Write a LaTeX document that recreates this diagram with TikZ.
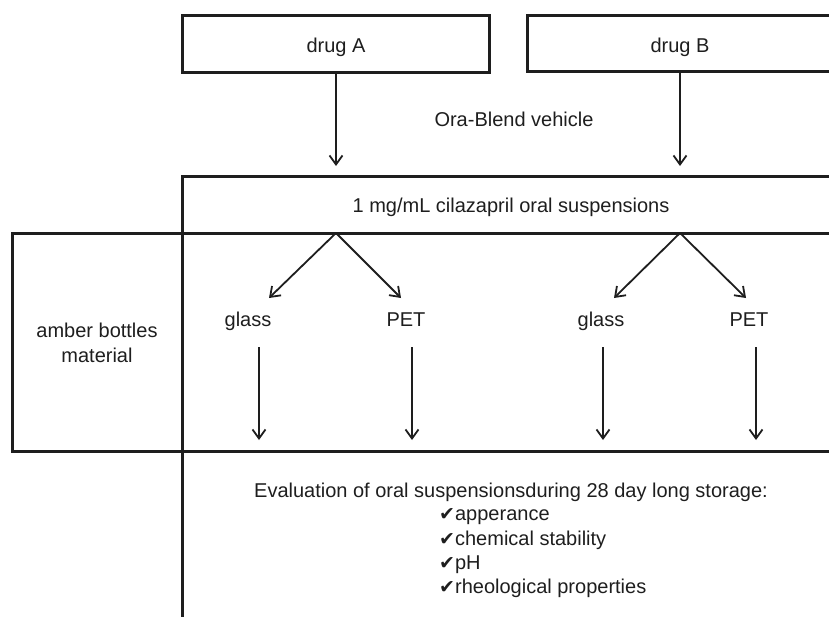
\documentclass[tikz,border=0pt]{standalone}
\usepackage{fontspec}
\setmainfont{Liberation Sans}
\newfontfamily\symfont{DejaVu Sans}
\usetikzlibrary{arrows.meta}
\definecolor{ink}{RGB}{30,30,30}
\definecolor{txt}{RGB}{30,30,30}
\newcommand{\chkmark}{{\symfont\fontsize{19}{19}\selectfont ✔}}
\begin{document}
\begin{tikzpicture}[x=1pt,y=-1pt,
  frame/.style={draw=ink,line width=3pt,inner sep=0pt,outer sep=0pt},
  rule/.style={draw=ink,line width=3pt},
  arr/.style={draw=ink,line width=1.8pt,-{Straight Barb[length=9pt,width=13pt,line width=1.8pt]}},
  lbl/.style={text=txt,font=\fontsize{20}{24}\selectfont,inner sep=0pt,anchor=base},
  item/.style={lbl,anchor=base west}]
\useasboundingbox (0,0) rectangle (829,616);
% boxes
\node[frame,minimum width=307pt,minimum height=57pt] (boxA) at (336,43.5) {};
\node[frame,minimum width=306pt,minimum height=56pt] (boxB) at (680,43) {};
\node[frame,minimum width=658pt,minimum height=57pt] (susp) at (511,204.5) {};
\node[frame,minimum width=828pt,minimum height=218pt] (band) at (426,342) {};
\coordinate (bottomend) at (182,640);
\draw[rule] (susp.south west) -- (bottomend);
% texts
\node[lbl] (tA) at (336,52) {drug A};
\node[lbl] (tB) at (680,52) {drug B};
\node[lbl] (vehicle) at (514,126) {Ora-Blend vehicle};
\node[lbl] (tsusp) at (511,212) {1 mg/mL cilazapril oral suspensions};
\node[lbl] (amb1) at (97,337) {amber bottles};
\node[lbl] (amb2) at (97,362) {material};
\node[lbl] (g1) at (248,326) {glass};
\node[lbl] (p1) at (406,326) {PET};
\node[lbl] (g2) at (601,326) {glass};
\node[lbl] (p2) at (749,326) {PET};
\node[lbl] (eval) at (511,497) {Evaluation of oral suspensionsduring 28 day long storage:};
\node[item] (c1) at (439,520) {\chkmark apperance};
\node[item] (c2) at (439,545) {\chkmark chemical stability};
\node[item] (c3) at (439,569) {\chkmark pH};
\node[item] (c4) at (439,593) {\chkmark rheological properties};
% arrows from drugs
\draw[arr,shorten >=10pt] (boxA.south) -- (boxA.south |- susp.north);
\draw[arr,shorten >=10pt] (boxB.south) -- (boxB.south |- susp.north);
% split arrows
\coordinate (s1) at (336,233);
\coordinate (s2) at (680,233);
\coordinate (g1t) at (269,298);
\coordinate (p1t) at (401,298);
\coordinate (g2t) at (614,298);
\coordinate (p2t) at (746,298);
\draw[arr] (s1) -- (g1t);
\draw[arr] (s1) -- (p1t);
\draw[arr] (s2) -- (g2t);
\draw[arr] (s2) -- (p2t);
% down arrows
\coordinate (d1a) at (259,347); \coordinate (d1b) at (259,440);
\coordinate (d2a) at (412,347); \coordinate (d2b) at (412,440);
\coordinate (d3a) at (603,347); \coordinate (d3b) at (603,440);
\coordinate (d4a) at (756,347); \coordinate (d4b) at (756,440);
\draw[arr] (d1a) -- (d1b);
\draw[arr] (d2a) -- (d2b);
\draw[arr] (d3a) -- (d3b);
\draw[arr] (d4a) -- (d4b);
\end{tikzpicture}
\end{document}
